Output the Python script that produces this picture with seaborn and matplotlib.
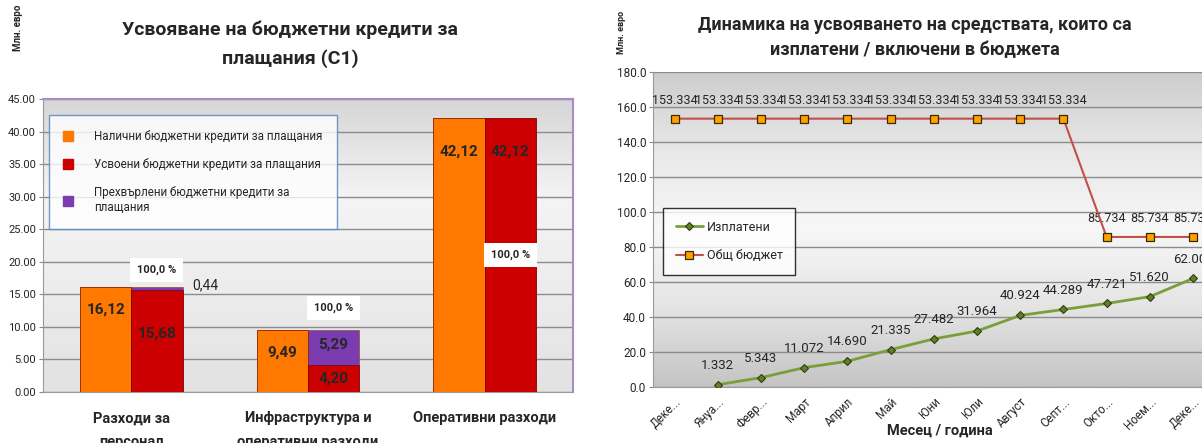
import numpy as np
import pandas as pd
import seaborn as sns
import matplotlib.pyplot as plt
from matplotlib.lines import Line2D
from matplotlib.colors import LinearSegmentedColormap
from matplotlib.ticker import FormatStrFormatter
from matplotlib.transforms import ScaledTranslation

# ---- left chart data (Млн. евро) ----
categories = ['Разходи за\nперсонал', 'Инфраструктура и\nоперативни разходи', 'Оперативни разходи']
available = [16.12, 9.49, 42.12]      # Налични
absorbed = [15.68, 4.20, 42.12]       # Усвоени
transferred = [0.44, 5.29, 0.0]       # Прехвърлени

# ---- right chart data ----
months = ['Деке...', 'Януа...', 'Февр...', 'Март', 'Април', 'Май', 'Юни',
          'Юли', 'Август', 'Септ...', 'Окто...', 'Ноем...', 'Деке...']
paid = [np.nan, 1.332, 5.343, 11.072, 14.690, 21.335, 27.482, 31.964,
        40.924, 44.289, 47.721, 51.620, 62.004]
budget = [153.334, 153.334, 153.334, 153.334, 153.334, 153.334, 153.334,
          153.334, 153.334, 153.334, 85.734, 85.734, 85.734]

sns.set_style('white')
plt.rcParams['font.family'] = ['Roboto', 'DejaVu Sans']

ORANGE = '#ff7800'
RED = '#cc0000'
PURPLE = '#7a3cb0'

fig = plt.figure(figsize=(12.02, 4.43), dpi=100)


def gradient_bg(ax, colors):
    cmap = LinearSegmentedColormap.from_list('bg', colors)
    grad = np.linspace(0, 1, 256).reshape(-1, 1)
    ax.imshow(grad, cmap=cmap, extent=[0, 1, 0, 1], transform=ax.transAxes,
              aspect='auto', zorder=-10, origin='upper')


# ==========================================
# LEFT: bar chart
# ==========================================
ax1 = fig.add_axes([43 / 1202, 51 / 443, 530 / 1202, 293 / 443])
gradient_bg(ax1, ['#d6d6d6', '#f4f4f4', '#ececec', '#e2e2e2'])

names = ['Налични', 'Усвоени']
df_total = pd.DataFrame({
    'cat': categories * 2,
    'series': [names[0]] * 3 + [names[1]] * 3,
    'value': available + [a + t for a, t in zip(absorbed, transferred)],
})
df_red = pd.DataFrame({
    'cat': categories * 2,
    'series': [names[0]] * 3 + [names[1]] * 3,
    'value': available + absorbed,
})
# purple stack drawn as full height, red drawn over it
sns.barplot(data=df_total, x='cat', y='value', hue='series', hue_order=names,
            palette=[ORANGE, PURPLE], width=0.58, errorbar=None, ax=ax1, saturation=1,
            legend=False, edgecolor='#8a3a00', linewidth=0.4, zorder=2)
sns.barplot(data=df_red, x='cat', y='value', hue='series', hue_order=names,
            palette=[ORANGE, RED], width=0.58, errorbar=None, ax=ax1, saturation=1,
            legend=False, edgecolor='#6a0000', linewidth=0.4, zorder=3)

ax1.set_xlim(-0.5, 2.5)
ax1.set_ylim(0, 45)
ax1.set_yticks(np.arange(0, 46, 5))
ax1.yaxis.set_major_formatter(FormatStrFormatter('%.2f'))
ax1.yaxis.grid(True, color='#8c8c8c', lw=1.0)
ax1.set_axisbelow(True)
ax1.set_xlabel('')
ax1.set_ylabel('')
ax1.tick_params(axis='y', labelsize=8, length=3, left=True, color='#888888', pad=2)
ax1.tick_params(axis='x', labelsize=10.5, length=0, pad=14)
for lab in ax1.get_xticklabels():
    lab.set_fontweight('bold')
    lab.set_linespacing(1.9)
for s in ['top', 'right']:
    ax1.spines[s].set_color('#a98bcc')
    ax1.spines[s].set_linewidth(1.5)
for s in ['left', 'bottom']:
    ax1.spines[s].set_color('#9a9a9a')

off = 0.145
fmt = lambda v: f'{v:.2f}'.replace('.', ',')
orange_lbl_y = [12.6, 6.1, 36.9]
pct_lbl_y = [18.7, 12.9, 21.0]
for i in range(3):
    ax1.text(i - off, orange_lbl_y[i], fmt(available[i]), ha='center', va='center',
             fontsize=11, fontweight='bold', zorder=5)
    if transferred[i] > 0:
        ax1.text(i + off, absorbed[i] / 2 + 1.2 if i == 0 else absorbed[i] / 2,
                 fmt(absorbed[i]), ha='center', va='center',
                 fontsize=11, fontweight='bold', zorder=5)
    else:
        ax1.text(i + off, orange_lbl_y[i], fmt(absorbed[i]), ha='center', va='center',
                 fontsize=11, fontweight='bold', zorder=5)
    pct = (absorbed[i] + transferred[i]) / available[i] * 100
    ax1.text(i + off, pct_lbl_y[i], f'{pct:.1f} %'.replace('.', ','), ha='center',
             va='center', fontsize=8, fontweight='bold', zorder=5,
             bbox=dict(facecolor='white', edgecolor='none', pad=5))
# purple labels
ax1.text(0 + 0.42, absorbed[0] + transferred[0] + 0.2, fmt(transferred[0]),
         ha='center', va='center', fontsize=10, zorder=5)
ax1.text(1 + off, absorbed[1] + transferred[1] / 2 + 0.4, fmt(transferred[1]),
         ha='center', va='center', fontsize=11, fontweight='bold', zorder=5)

handles = [Line2D([], [], ls='', marker='s', markersize=7, color=c)
           for c in [ORANGE, RED, PURPLE]]
leg1 = ax1.legend(handles, ['Налични бюджетни кредити за плащания',
                            'Усвоени бюджетни кредити за плащания',
                            'Прехвърлени бюджетни кредити за\nплащания'],
                  loc='upper left', bbox_to_anchor=(0.011, 0.945), frameon=True,
                  fancybox=False, edgecolor='#4f81bd', fontsize=8.4,
                  handlelength=0.8, handletextpad=1.8, labelspacing=1.3,
                  borderpad=1.25, borderaxespad=0)
leg1.get_frame().set_linewidth(1.0)
leg1.set_zorder(6)

fig.text(290 / 1202, 1 - 44 / 443, 'Усвояване на бюджетни кредити за\nплащания (С1)',
         ha='center', va='center', fontsize=14, fontweight='bold', linespacing=1.7)
fig.text(18 / 1202, 1 - 28 / 443, 'Млн. евро', rotation=90, ha='center', va='center',
         fontsize=7, fontweight='bold')

# ==========================================
# RIGHT: line chart
# ==========================================
ax2 = fig.add_axes([653 / 1202, 56 / 443, 561.6 / 1202, 315 / 443])
gradient_bg(ax2, ['#cdcdcd', '#e8e8e8', '#f7f7f7', '#e4e4e4', '#c4c4c4'])

idx = np.arange(len(months))
sns.lineplot(x=idx, y=budget, ax=ax2, color='#c0504d', lw=1.5, marker='s',
             markersize=6, markerfacecolor='#ffa200', markeredgecolor='#3a2a00',
             markeredgewidth=0.9, label='Общ бюджет', zorder=4)
sns.lineplot(x=idx, y=paid, ax=ax2, color='#77a03a', lw=2.0, marker='D',
             markersize=4.5, markerfacecolor='#5f7f2a', markeredgecolor='#2f4010',
             markeredgewidth=0.8, label='Изплатени', zorder=5)

for i in idx:
    ax2.annotate(f'{budget[i]:.3f}', (i, budget[i]), xytext=(0, 13),
                 textcoords='offset points', ha='center', va='center', fontsize=9)
    if not np.isnan(paid[i]):
        ax2.annotate(f'{paid[i]:.3f}', (i, paid[i]), xytext=(0, 14),
                     textcoords='offset points', ha='center', va='center', fontsize=9.5)

ax2.set_xlim(-0.5, len(months) - 0.5)
ax2.set_ylim(0, 180)
ax2.set_yticks(np.arange(0, 181, 20))
ax2.yaxis.set_major_formatter(FormatStrFormatter('%.1f'))
ax2.yaxis.grid(True, color='#8c8c8c', lw=1.0)
ax2.set_axisbelow(True)
ax2.set_xticks(idx)
ax2.set_xticklabels(months, rotation=45, ha='right', rotation_mode='anchor', fontsize=8.5)
shift = ScaledTranslation(10 / 100, 0, fig.dpi_scale_trans)
for lab in ax2.get_xticklabels():
    lab.set_transform(lab.get_transform() + shift)
ax2.tick_params(axis='y', labelsize=8.5, length=3, left=True, color='#888888', pad=2)
ax2.tick_params(axis='x', length=0, pad=6)
for s in ['top', 'right']:
    ax2.spines[s].set_visible(False)
for s in ['left', 'bottom']:
    ax2.spines[s].set_color('#9a9a9a')
ax2.set_xlabel('Месец / година', fontsize=10.5, fontweight='bold')
ax2.xaxis.set_label_coords(0.511, -0.115)

h, l = ax2.get_legend_handles_labels()
leg2 = ax2.legend(h[::-1], l[::-1], loc='upper left', bbox_to_anchor=(0.018, 0.568),
                  frameon=True, fancybox=False, edgecolor='black', fontsize=9,
                  handlelength=2.2, handletextpad=0.3, labelspacing=1.25,
                  borderpad=1.0, borderaxespad=0)
leg2.get_frame().set_linewidth(1.0)

fig.text(915 / 1202, 1 - 38 / 443,
         'Динамика на усвояването на средствата, които са\nизплатени / включени в бюджета',
         ha='center', va='center', fontsize=13, fontweight='bold', linespacing=1.5)
fig.text(621 / 1202, 1 - 32 / 443, 'Млн. евро', rotation=90, ha='center', va='center',
         fontsize=6.5, fontweight='bold')

fig.savefig('out.png', dpi=100)
